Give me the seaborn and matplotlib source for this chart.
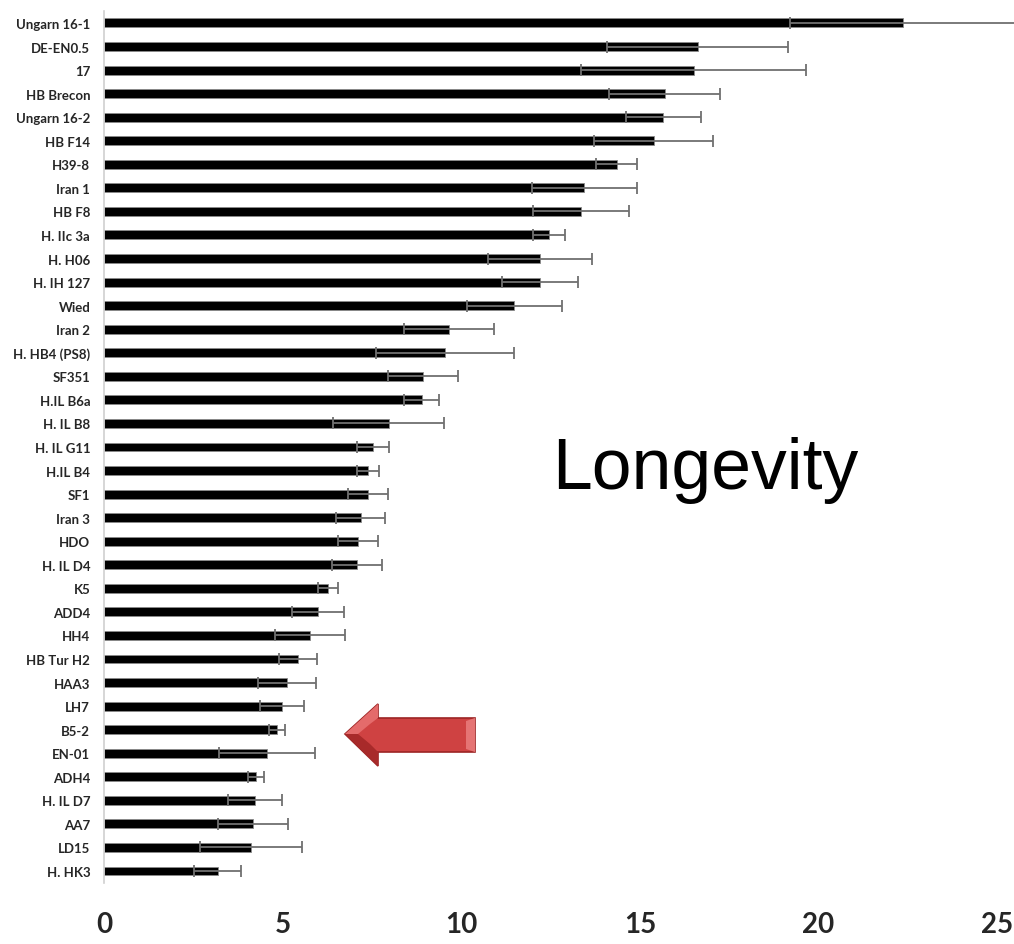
import numpy as np
import pandas as pd
import matplotlib.pyplot as plt
import seaborn as sns
from matplotlib.patches import Polygon

# lines (top to bottom), mean longevity and error
lines = ["Ungarn 16-1", "DE-EN0.5", "17", "HB Brecon", "Ungarn 16-2", "HB F14",
         "H39-8", "Iran 1", "HB F8", "H. IIc 3a", "H. H06", "H. IH 127", "Wied",
         "Iran 2", "H. HB4 (PS8)", "SF351", "H.IL B6a", "H. IL B8", "H. IL G11",
         "H.IL B4", "SF1", "Iran 3", "HDO", "H. IL D4", "K5", "ADD4", "HH4",
         "HB Tur H2", "HAA3", "LH7", "B5-2", "EN-01", "ADH4", "H. IL D7", "AA7",
         "LD15", "H. HK3"]
means = [22.37, 16.62, 16.51, 15.69, 15.66, 15.39, 14.35, 13.45, 13.36, 12.45,
         12.21, 12.21, 11.48, 9.66, 9.55, 8.94, 8.90, 7.97, 7.53, 7.39, 7.39,
         7.18, 7.11, 7.08, 6.26, 6.00, 5.77, 5.43, 5.12, 4.98, 4.84, 4.57, 4.25,
         4.22, 4.18, 4.11, 3.18]
errors = [3.18, 2.53, 3.15, 1.56, 1.05, 1.67, 0.58, 1.47, 1.35, 0.45,
          1.46, 1.06, 1.33, 1.27, 1.93, 0.98, 0.49, 1.55, 0.46, 0.32, 0.57,
          0.68, 0.55, 0.71, 0.28, 0.73, 0.98, 0.54, 0.80, 0.62, 0.23, 1.34, 0.23,
          0.76, 0.98, 1.42, 0.65]
xticks = [0, 5, 10, 15, 20, 25]

W, H = 1014, 945

sns.set_style("white")
fig = plt.figure(figsize=(W / 100, H / 100), dpi=100)
ax = fig.add_axes([0.1026, 0.0648, 0.8807, 0.9223])

df = pd.DataFrame({"line": lines, "longevity": means})
sns.barplot(data=df, x="longevity", y="line", orient="h", color="black",
            saturation=1, width=0.38, edgecolor="#8a8a8a", linewidth=0.6, ax=ax)

ys = [p.get_y() + p.get_height() / 2 for p in ax.patches]
eb = ax.errorbar(means, ys, xerr=errors, fmt="none", ecolor="#707070",
                 elinewidth=1.3, capsize=4, capthick=1.3)
for part in eb.lines:
    for a in (part if isinstance(part, tuple) else [part]):
        if a is not None:
            a.set_clip_on(False)

ax.set_xlim(0, 25)
ax.set_ylim(len(lines) - 0.5, -0.5)
ax.set_xticks(xticks)
ax.set_xlabel("")
ax.set_ylabel("")
for s in ["top", "right", "bottom"]:
    ax.spines[s].set_visible(False)
ax.spines["left"].set_color("#d0d0d0")
ax.spines["left"].set_linewidth(1.2)
ax.tick_params(axis="x", length=0, pad=20)
ax.tick_params(axis="y", length=0, pad=10)
for t in ax.get_xticklabels():
    t.set_fontfamily("Lato")
    t.set_fontweight("bold")
    t.set_fontsize(20)
for t in ax.get_yticklabels():
    t.set_fontfamily("Lato")
    t.set_fontweight("bold")
    t.set_fontsize(9.5)

fig.text(705 / W, 1 - 489 / H, "Longevity", ha="center", va="baseline",
         fontsize=51.5, family="Liberation Sans", color="black")


# red arrow (pixel coords from top-left)
def px(pts):
    return [(x / W, 1 - y / H) for x, y in pts]


arrow = px([(345, 735), (378, 705), (378, 719), (475, 719), (475, 753),
            (378, 753), (378, 767)])
fig.patches.append(Polygon(arrow, closed=True, transform=fig.transFigure,
                           facecolor="#cf4242", edgecolor="#9c2424", lw=1.2))
# bevel highlights
fig.patches.append(Polygon(px([(345, 735), (378, 705), (378, 719), (370, 725), (358, 735)]),
                           closed=True, transform=fig.transFigure,
                           facecolor="#e46b6b", edgecolor="none"))
fig.patches.append(Polygon(px([(345, 735), (358, 735), (370, 745), (378, 753), (378, 767)]),
                           closed=True, transform=fig.transFigure,
                           facecolor="#a82a2a", edgecolor="none"))
fig.patches.append(Polygon(px([(466, 722), (475, 719), (475, 753), (466, 750)]),
                           closed=True, transform=fig.transFigure,
                           facecolor="#e57474", edgecolor="none"))

fig.savefig("out.png", dpi=100)
